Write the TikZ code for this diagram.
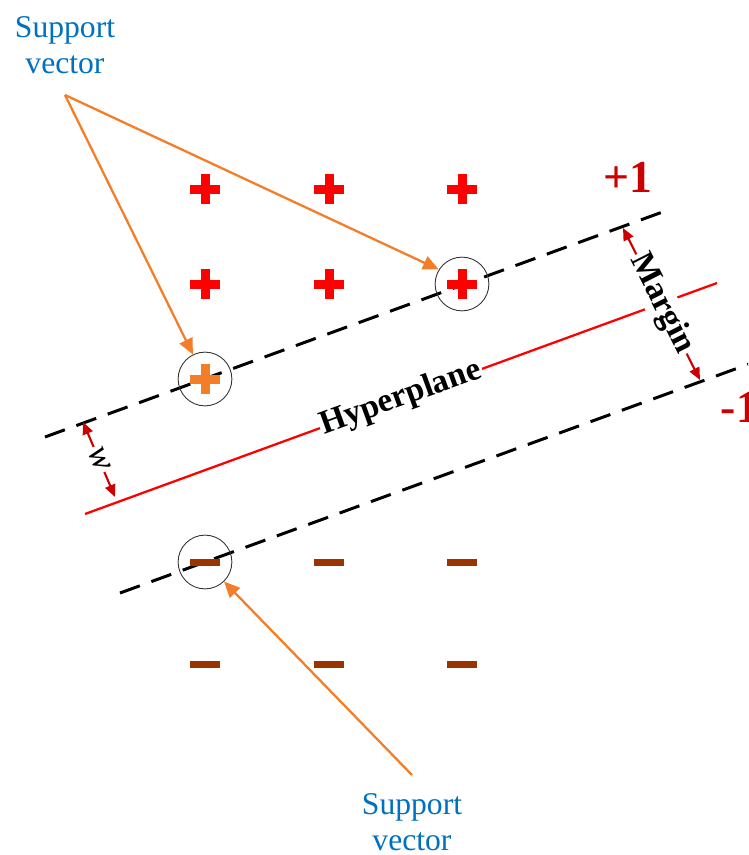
\documentclass[tikz,border=0pt]{standalone}
\usepackage{fontspec}
\setmainfont{Liberation Serif}
\usetikzlibrary{arrows.meta}

\definecolor{svblue}{RGB}{0,112,192}
\definecolor{svorange}{RGB}{244,125,40}
\definecolor{plusred}{RGB}{255,0,0}
\definecolor{minusbrown}{RGB}{153,51,0}
\definecolor{labelred}{RGB}{204,0,0}

\tikzset{
	marginline/.style={black, line width=1.7pt, dash pattern=on 12pt off 7pt},
	hyperline/.style={plusred, line width=1.3pt},
	svcircle/.style={circle, draw=black!80, line width=0.5pt, minimum size=30.6pt, inner sep=0pt},
	svtext/.style={svblue, align=center, font=\fontsize{18}{20.5}\selectfont},
	svarrow/.style={svorange, line width=1.3pt, -{Triangle[length=9pt, width=8pt]}},
	gaparrow/.style={labelred, line width=1.2pt, {Triangle[length=7pt, width=6pt]}-{Triangle[length=7pt, width=6pt]}},
	hplabel/.style={fill=white, text=black, inner sep=1pt, rotate=20, font=\fontsize{19}{22}\selectfont\bfseries},
	mglabel/.style={fill=white, text=black, inner sep=1pt, font=\fontsize{19}{22}\selectfont\bfseries},
	wlabel/.style={fill=white, text=black, inner sep=1pt, font=\fontsize{20}{22}\selectfont\itshape},
	pmlabel/.style={labelred, inner sep=0pt, font=\fontsize{26}{30}\selectfont\bfseries}
}

\begin{document}
\begin{tikzpicture}[x=0.02cm, y=-0.02cm]
	\useasboundingbox (0,0) rectangle (748,855);
	\clip (0,0) rectangle (748,855);

	% margin lines and hyperplane
	\coordinate (upA) at (45,437);
	\coordinate (upB) at (668,210);
	\coordinate (loA) at (120,593);
	\coordinate (loB) at (760,360);
	\coordinate (hpA) at (85,514);
	\coordinate (hpB) at (717,283);
	\draw[marginline] (upA) -- (upB);
	\draw[marginline] (loA) -- (loB);
	\draw[hyperline] (hpA) -- node[hplabel] (hp) {Hyperplane} (hpB);

	% class +1 and class -1 samples
	\foreach \x in {205,329,462} {
		\foreach \y in {189,284} {
			\fill[plusred] (\x-15,\y-4.5) rectangle (\x+15,\y+4.5);
			\fill[plusred] (\x-4.5,\y-15) rectangle (\x+4.5,\y+15);
		}
		\foreach \y in {562,664} {
			\fill[minusbrown] (\x-15,\y-3.5) rectangle (\x+15,\y+3.5);
		}
	}
	\fill[svorange] (190,374.5) rectangle (220,383.5);
	\fill[svorange] (200.5,364) rectangle (209.5,394);

	% support vectors
	\node[svcircle] (svP1) at (205,379) {};
	\node[svcircle] (svP2) at (462,284) {};
	\node[svcircle] (svM) at (205,562) {};

	% margin and w
	\coordinate (mgA) at (623,228);
	\coordinate (mgB) at (700,380);
	\draw[gaparrow] (mgA) -- node[mglabel, rotate=-63] (mg) {Margin} (mgB);
	\coordinate (wA) at (83,422);
	\coordinate (wB) at (115,497);
	\draw[gaparrow] (wA) -- node[wlabel, rotate=-67] (w) {w} (wB);

	\node[pmlabel] (pos) at (628,177) {+1};
	\node[pmlabel] (neg) at (740,407) {-1};

	% labels
	\node[svtext] (svTop) at (65,45) {Support\\vector};
	\coordinate (svTopFoot) at (65,95);
	\draw[svarrow] (svTopFoot) -- (svP2.148);
	\draw[svarrow] (svTopFoot) -- (svP1);
	\node[svtext] (svBot) at (412,822) {Support\\vector};
	\coordinate (svBotFoot) at (412,775);
	\draw[svarrow] (svBotFoot) -- (svM);
\end{tikzpicture}
\end{document}
